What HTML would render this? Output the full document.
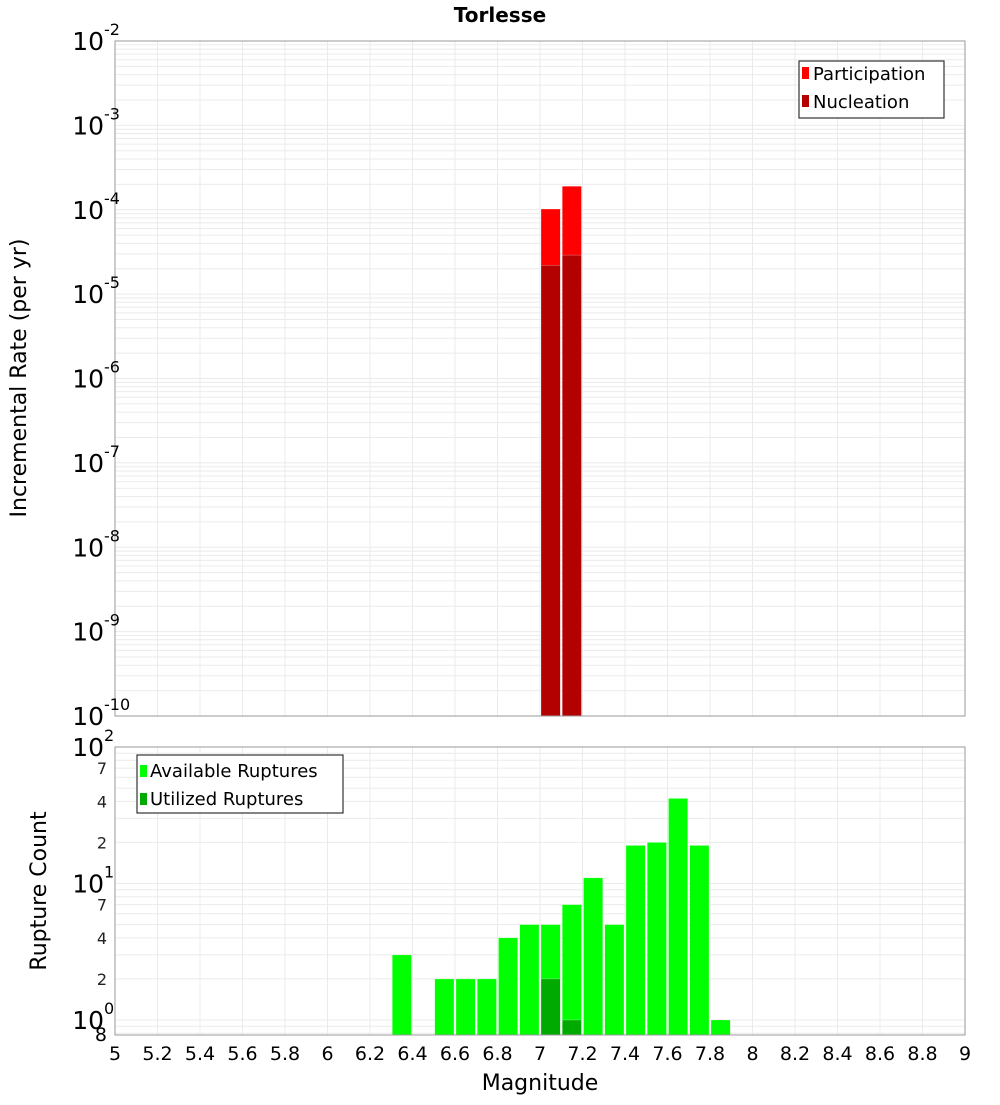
<!DOCTYPE html>
<html><head><meta charset="utf-8"><style>
body{margin:0;background:#fff;width:1000px;height:1100px;overflow:hidden}
svg text{font-family:"DejaVu Sans","Liberation Sans",sans-serif}
</style></head><body>
<svg id="c" width="1000" height="1100" xmlns="http://www.w3.org/2000/svg">
<text x="500" y="22" text-anchor="middle" font-size="20" font-weight="bold">Torlesse</text>
<g id="topPlot"></g>
<g id="botPlot"></g>
<text transform="translate(26,378) rotate(-90)" text-anchor="middle" font-size="22">Incremental Rate (per yr)</text>
<text transform="translate(46,891) rotate(-90)" text-anchor="middle" font-size="22">Rupture Count</text>
<text x="540" y="1090" text-anchor="middle" font-size="22">Magnitude</text>
<g id="legends">
<g>
<rect x="799" y="61" width="145" height="57" fill="#fff" stroke="#333" stroke-width="1.2"/>
<rect x="802" y="67" width="7" height="12" fill="#ff0000"/>
<text x="813" y="80" font-size="18">Participation</text>
<rect x="802" y="95" width="7" height="12" fill="#b30000"/>
<text x="813" y="108" font-size="18">Nucleation</text>
</g>
<g>
<rect x="137" y="755" width="206" height="58" fill="#fff" stroke="#333" stroke-width="1.2"/>
<rect x="140" y="765" width="7" height="12" fill="#00ff00"/>
<text x="150" y="777" font-size="18">Available Ruptures</text>
<rect x="140" y="793" width="7" height="12" fill="#00aa00"/>
<text x="150" y="805" font-size="18">Utilized Ruptures</text>
</g>
</g>
</svg>
<script>
const rateMags=[7.0,7.1];
const participation=[1.02e-4,1.9e-4];
const nucleation=[2.2e-5,2.9e-5];
const countMags=[6.3,6.5,6.6,6.7,6.8,6.9,7.0,7.1,7.2,7.3,7.4,7.5,7.6,7.7,7.8];
const available=[3,2,2,2,4,5,5,7,11,5,19,20,42,19,1];
const utilMags=[7.0,7.1];
const utilized=[2,1];
const xTicks=[5,5.2,5.4,5.6,5.8,6,6.2,6.4,6.6,6.8,7,7.2,7.4,7.6,7.8,8,8.2,8.4,8.6,8.8,9];
const rateDecades=[-10,-9,-8,-7,-6,-5,-4,-3,-2];
const countDecades=[0,1,2];
const countMinorLabels=[2,4,7];

const NS="http://www.w3.org/2000/svg";
const X0=115,X1=965;
const xs=m=>X0+(m-5)/4*(X1-X0);
const T0=41,T1=716; const ty=v=>T0+(-2-Math.log10(v))*(T1-T0)/8;
const B0=747,BD=136.5,B1=1035; const by=v=>B0+(2-Math.log10(v))*BD;
function mk(p,tag,a){const e=document.createElementNS(NS,tag);for(const k in a)e.setAttribute(k,a[k]);p.appendChild(e);return e;}
const svgEl=document.getElementById('c');
const topG=document.getElementById('topPlot'), botG=document.getElementById('botPlot');

function grid(g,y0,y1,yfun,decs){
  for(const t of xTicks){const l=mk(g,'line',{x1:xs(t),x2:xs(t),y1:y0,y2:y1,stroke:'#ebebeb','stroke-width':1});
    
    }
  for(const d of decs){for(let k=1;k<10;k++){const y=yfun(k*Math.pow(10,d));if(y<y0-0.5||y>y1+0.5)continue;
    const l=mk(g,'line',{x1:X0,x2:X1,y1:y,y2:y,stroke:'#ebebeb','stroke-width':1});
    
    }}
  for(let k=8;k<10;k++){const y=yfun(k*Math.pow(10,decs[0]-1));if(y>=y0&&y<=y1){const l=mk(g,'line',{x1:X0,x2:X1,y1:y,y2:y,stroke:'#ebebeb'});
    
    }}
}
grid(topG,T0,T1,ty,rateDecades);
grid(botG,B0,B1,by,countDecades);

function bar(g,m,v,fill,yfun,ybot,name){const x=xs(m)+1,w=xs(m+0.1)-xs(m)-2,y=yfun(v);
  const r=mk(g,'rect',{x:x,y:y,width:w,height:ybot-y,fill:fill,stroke:'#fff','stroke-opacity':0.5,'stroke-width':0.5});
  
  }
rateMags.forEach((m,i)=>bar(topG,m,participation[i],'#ff0000',ty,T1,'participation-bar'));
rateMags.forEach((m,i)=>bar(topG,m,nucleation[i],'#b30000',ty,T1,'nucleation-bar'));
countMags.forEach((m,i)=>bar(botG,m,available[i],'#00ff00',by,B1,'available-bar'));
utilMags.forEach((m,i)=>bar(botG,m,utilized[i],'#00aa00',by,B1,'utilized-bar'));

mk(topG,'rect',{x:X0,y:T0,width:X1-X0,height:T1-T0,fill:'none',stroke:'#999'});
mk(botG,'rect',{x:X0,y:B0,width:X1-X0,height:B1-B0,fill:'none',stroke:'#999'});

function decLabel(g,y,d){const t=mk(g,'text',{x:104,y:y+9,'text-anchor':'end','font-size':25});
  t.textContent='10';
  
  
  const s=mk(g,'text',{x:104,y:y-6,'font-size':16});s.textContent=String(d);
  
  }
rateDecades.forEach(d=>decLabel(topG,ty(Math.pow(10,d)),d));
countDecades.forEach(d=>decLabel(botG,by(Math.pow(10,d)),d));
countDecades.slice(0,2).forEach(d=>countMinorLabels.forEach(k=>{const t=mk(botG,'text',{x:107,y:by(k*Math.pow(10,d))+6,'text-anchor':'end','font-size':16,fill:'#222'});
  t.textContent=String(k);
  
  }));
{const t=mk(botG,'text',{x:107,y:by(0.8)+8,'text-anchor':'end','font-size':19});t.textContent='8';
  
  }
xTicks.forEach(v=>{const t=mk(svgEl,'text',{x:xs(v),y:1060,'text-anchor':'middle','font-size':19});
  t.textContent=String(v);
  
  });
svgEl.appendChild(document.getElementById('legends'));
</script>
</body></html>
